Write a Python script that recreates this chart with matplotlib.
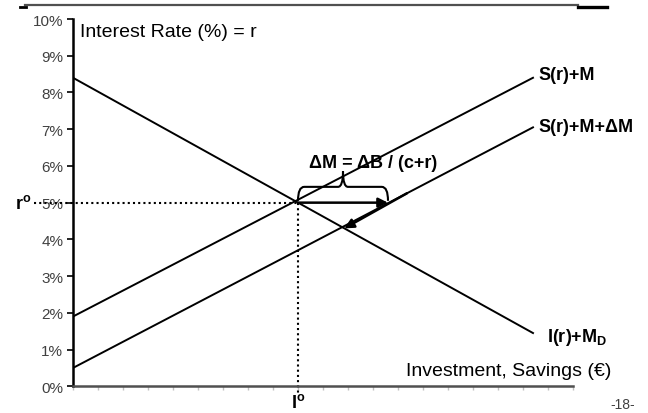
import matplotlib.pyplot as plt
import numpy as np
from matplotlib.path import Path
from matplotlib.patches import PathPatch

plt.rcParams['font.family'] = ['Liberation Sans', 'DejaVu Sans']
plt.rcParams['mathtext.fontset'] = 'custom'
plt.rcParams['mathtext.rm'] = 'Liberation Sans'
plt.rcParams['mathtext.bf'] = 'Liberation Sans:bold'

# data (interest rate in %, quantity in arbitrary units 0..20)
x_ends = [0, 18.4]
invest_r = [8.4, 1.45]          # I(r)+M_D
save_r = [1.9, 8.4]             # S(r)+M
save_shift_r = [0.5, 7.05]      # S(r)+M+dM
x_eq = 9.0
r_eq = 5.0
x_shift = 12.6                  # where S(r)+M+dM meets r_eq
x_new, r_new = 10.85, 4.33      # new equilibrium
x_arrow_start = 13.36
y_ticks = list(range(0, 11))
y_labels = [f'{v}%' for v in y_ticks]

fig = plt.figure(figsize=(6.48, 4.14), dpi=100)
ax = fig.add_axes([73 / 648, 1 - 387.3 / 414, 500 / 648, 367.3 / 414])

ax.plot(x_ends, invest_r, color='black', lw=1.4)
ax.plot(x_ends, save_r, color='black', lw=1.4)
ax.plot(x_ends, save_shift_r, color='black', lw=1.4)

# dotted guide lines
ax.plot([-1.55, x_eq], [r_eq, r_eq], color='black', lw=1.5, ls=(0, (1, 1.5)), clip_on=False)
ax.plot([x_eq, x_eq], [r_eq, -0.2], color='black', lw=1.5, ls=(0, (1, 1.5)), clip_on=False)

# arrows
ax.annotate('', xy=(x_shift, r_eq), xytext=(x_eq, r_eq),
            arrowprops=dict(arrowstyle='-|>', color='black', lw=1.8, mutation_scale=14, shrinkA=0, shrinkB=0))
r_arrow_start = np.interp(x_arrow_start, x_ends, save_shift_r)
ax.annotate('', xy=(x_new, r_new - 0.03), xytext=(x_arrow_start, r_arrow_start),
            arrowprops=dict(arrowstyle='-|>', color='black', lw=1.8, mutation_scale=14, shrinkA=0, shrinkB=0))

# curly brace above the horizontal shift
xm = (x_eq + x_shift) / 2
yb, yt, yc = r_eq + 0.05, r_eq + 0.43, r_eq + 0.85
verts = [(x_eq, yb), (x_eq, yt), (x_eq + 0.25, yt),
         (xm - 0.2, yt),
         (xm, yt), (xm, yc),
         (xm, yt), (xm + 0.2, yt),
         (x_shift - 0.25, yt),
         (x_shift, yt), (x_shift, yb)]
codes = [Path.MOVETO, Path.CURVE3, Path.CURVE3,
         Path.LINETO,
         Path.CURVE3, Path.CURVE3,
         Path.CURVE3, Path.CURVE3,
         Path.LINETO,
         Path.CURVE3, Path.CURVE3]
ax.add_patch(PathPatch(Path(verts, codes), fill=False, lw=1.5, color='black'))

ax.text(12.0, 6.1, 'ΔM = ΔB / (c+r)', fontsize=13, fontweight='bold', ha='center', va='center')
ax.text(18.6, 8.5, 'S(r)+M', fontsize=13, fontweight='bold', ha='left', va='center')
ax.text(18.6, 7.07, 'S(r)+M+ΔM', fontsize=13, fontweight='bold', ha='left', va='center')
ax.text(18.95, 1.35, r'I(r)+M$_\mathbf{D}$', fontsize=13, fontweight='bold', ha='left', va='center')
ax.text(21.55, 0.44, 'Investment, Savings (€)', fontsize=14, ha='right', va='center')
ax.text(0.28, 9.67, 'Interest Rate (%) = r', fontsize=14, ha='left', va='center')
ax.text(-1.65, r_eq, r'$\mathbf{r^{o}}$', fontsize=13, ha='right', va='center')
ax.text(x_eq, -0.42, r'$\mathbf{I^{o}}$', fontsize=13, ha='center', va='center')

ax.set_xlim(0, 20)
ax.set_ylim(0, 10)
ax.set_yticks(y_ticks)
ax.set_yticklabels(y_labels, fontsize=11, color='#404040')
ax.set_xticks(range(0, 21))
ax.set_xticklabels([])
ax.tick_params(axis='y', length=4, width=1.2, color='black', pad=3)
ax.tick_params(axis='x', length=3, width=1, color='#c0c0c0')
for s in ['top', 'right']:
    ax.spines[s].set_visible(False)
ax.spines['left'].set_linewidth(1.8)
ax.spines['left'].set_color('black')
ax.spines['bottom'].set_linewidth(1.8)
ax.spines['bottom'].set_color('#505050')

# slide decoration
fig.add_artist(plt.Line2D([25 / 648, 578 / 648], [1 - 6 / 414, 1 - 6 / 414], color='#505050', lw=1.6))
fig.add_artist(plt.Line2D([578 / 648, 607 / 648], [1 - 8 / 414, 1 - 8 / 414], color='black', lw=2.4))
fig.add_artist(plt.Line2D([20 / 648, 26 / 648], [1 - 8 / 414, 1 - 8 / 414], color='black', lw=2))
fig.text(623 / 648, 1 - 405 / 414, '-18-', fontsize=10, color='#404040', ha='center', va='center')

fig.savefig('out.png', dpi=100)
